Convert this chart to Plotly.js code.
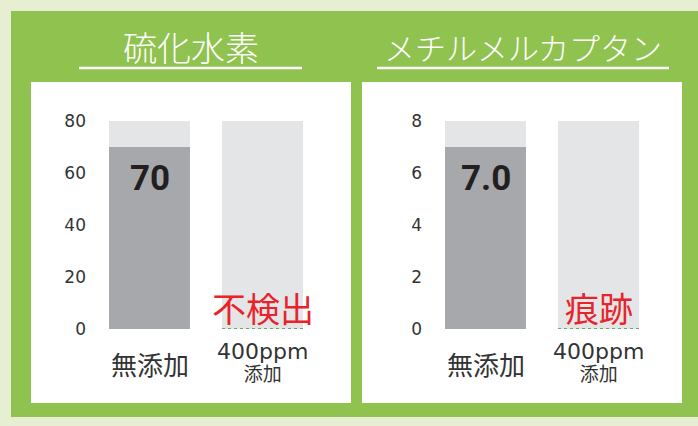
<!DOCTYPE html>
<html>
<head>
<meta charset="utf-8">
<script src="https://cdn.plot.ly/plotly-3.0.1.min.js"></script>
<style>html,body{margin:0;padding:0;background:#e6efd2;}#chart{width:698px;height:426px;}</style>
</head>
<body>
<div id="chart"></div>
<script>
// ---- data ----
const categories = ['無添加', '400ppm添加'];
const xLabelTop = ['無添加', '400ppm'];
const xLabelBottom = ['', '添加'];
const titles = ['硫化水素', 'メチルメルカプタン'];
const h2sValues = [70, 0];
const h2sScale = [80, 80];
const h2sTicks = [0, 20, 40, 60, 80];
const mmValues = [7.0, 0];
const mmScale = [8, 8];
const mmTicks = [0, 2, 4, 6, 8];
const valueLabels = [['70', ''], ['7.0', '']];
const resultLabels = [['', '不検出'], ['', '痕跡']];

// ---- layout helpers ----
const W = 698, H = 426;
const px = x => x / W;
const py = y => 1 - y / H;
const BARGAP = 1 - 81 / 113;
const BARW = 1 - BARGAP;

const GREEN = '#8fc24f';
const LIGHT = '#e6efd2';
const BG_BAR = '#e4e5e7';
const VAL_BAR = '#a7a8ab';
const RED = '#e8232b';
const DOT = '#3c9a3c';
const CJK = '"Noto Sans CJK JP", "Noto Sans", sans-serif';
const LAT = '"DejaVu Sans", "Noto Sans CJK JP", sans-serif';
const NUM = 'Roboto, "DejaVu Sans Condensed", sans-serif';

const panels = [
  {vals: h2sValues, scale: h2sScale, ticks: h2sTicks, xa: 'x', ya: 'y', xdom: [px(93), px(319)], panel: [31, 351], title: titles[0], tcx: 190.5, line: [79, 302], tsize: 34, vlabels: valueLabels[0], rlabels: resultLabels[0]},
  {vals: mmValues, scale: mmScale, ticks: mmTicks, xa: 'x2', ya: 'y2', xdom: [px(429), px(655)], panel: [362, 682], title: titles[1], tcx: 523, line: [377, 669], tsize: 31, vlabels: valueLabels[1], rlabels: resultLabels[1]}
];

const data = [];
const shapes = [
  {type: 'rect', xref: 'paper', yref: 'paper', x0: px(11), x1: px(698), y0: py(417), y1: py(11), fillcolor: GREEN, line: {width: 0}, layer: 'below'}
];
const annotations = [];
const layout = {
  width: W, height: H,
  margin: {l: 0, r: 0, t: 0, b: 0},
  paper_bgcolor: LIGHT,
  plot_bgcolor: 'rgba(0,0,0,0)',
  showlegend: false,
  barmode: 'overlay',
  bargap: BARGAP,
  shapes: shapes,
  annotations: annotations
};

panels.forEach((p, i) => {
  const sfx = i === 0 ? '' : '2';
  // white panel
  shapes.push({type: 'rect', xref: 'paper', yref: 'paper', x0: px(p.panel[0]), x1: px(p.panel[1]), y0: py(403), y1: py(82), fillcolor: '#ffffff', line: {width: 0}, layer: 'below'});
  // title underline
  shapes.push({type: 'line', xref: 'paper', yref: 'paper', x0: px(p.line[0]), x1: px(p.line[1]), y0: py(68), y1: py(68), line: {color: '#ffffff', width: 2.5}});
  // title
  annotations.push({xref: 'paper', yref: 'paper', x: px(p.tcx), y: py(46), xanchor: 'center', yanchor: 'middle', showarrow: false, text: p.title, font: {family: CJK, size: p.tsize, color: '#ffffff', weight: 300}});

  // background (scale) bars
  data.push({type: 'bar', x: categories, y: p.scale, xaxis: p.xa, yaxis: p.ya, marker: {color: BG_BAR}, hoverinfo: 'skip'});
  // value bars
  data.push({type: 'bar', x: categories, y: p.vals, xaxis: p.xa, yaxis: p.ya, marker: {color: VAL_BAR}, hoverinfo: 'skip'});

  layout['xaxis' + sfx] = {domain: p.xdom, anchor: p.ya, type: 'category', range: [-0.5, 1.5], showticklabels: false, showgrid: false, zeroline: false, showline: false, ticks: '', fixedrange: true};
  layout['yaxis' + sfx] = {domain: [py(329), py(121)], anchor: p.xa, range: [0, p.scale[0]], tickvals: p.ticks, ticktext: p.ticks.map(String), showgrid: false, zeroline: false, showline: false, ticks: '', ticklabelstandoff: 6, tickfont: {family: LAT, size: 17, color: '#333333'}, fixedrange: true};

  categories.forEach((c, k) => {
    // value label inside bar
    if (p.vlabels[k]) {
      annotations.push({xref: p.xa, yref: p.ya, x: c, y: p.vals[k], yanchor: 'middle', xanchor: 'center', yshift: -31, showarrow: false, text: '<b>' + p.vlabels[k] + '</b>', font: {family: NUM, size: 35, color: '#231f20'}});
    }
    // result label (not detected / trace)
    if (p.rlabels[k]) {
      annotations.push({xref: p.xa, yref: p.ya, x: c, y: p.vals[k], yanchor: 'middle', xanchor: 'center', yshift: 22, showarrow: false, text: p.rlabels[k], font: {family: CJK, size: 34, color: RED}});
      shapes.push({type: 'line', xref: p.xa, yref: p.ya, x0: k - BARW / 2, x1: k + BARW / 2, y0: p.vals[k], y1: p.vals[k], line: {color: DOT, width: 1.5, dash: 'dot'}});
    }
    // category labels
    if (xLabelBottom[k]) {
      annotations.push({xref: p.xa, yref: 'paper', x: c, y: py(362), yanchor: 'middle', xanchor: 'center', showarrow: false, borderpad: 0,
        text: '<span style="font-size:22px">' + xLabelTop[k] + '</span><br><span style="font-size:19px">' + xLabelBottom[k] + '</span>',
        font: {family: LAT, size: 17, color: '#333333'}});
    } else {
      annotations.push({xref: p.xa, yref: 'paper', x: c, y: py(363), yanchor: 'middle', xanchor: 'center', showarrow: false, text: xLabelTop[k], font: {family: CJK, size: 26, color: '#333333'}});
    }
  });
});

Plotly.newPlot('chart', data, layout, {displayModeBar: false, staticPlot: true});
</script>
</body>
</html>
